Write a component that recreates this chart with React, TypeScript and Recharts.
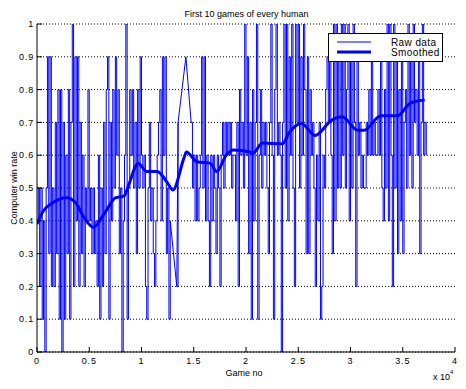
import { LineChart, Line, XAxis, YAxis, CartesianGrid, Legend } from 'recharts';

const FONT = '"Liberation Sans", Arial, Helvetica, sans-serif';
const BLUE = '#0000ff';

const title = 'First 10 games of every human';
const xTicks = [0, 5000, 10000, 15000, 20000, 25000, 30000, 35000, 40000];
const yTicks = [0, 0.1, 0.2, 0.3, 0.4, 0.5, 0.6, 0.7, 0.8, 0.9, 1];

// win rate over each player's first 10 games, one reading every 125 games
// null = no data there (the bridge line below draws the straight jump)
const rawStep = 125;
const rawRate = [
  0.4, 0.5, 0.2, 0.5, 0.1, 0.4, 0, 0.5, 0.9, 0.3,
  0.9, 0.2, 0.5, 0.2, 0.7, 0.3, 0.8, 0.1, 0.8, 0,
  0.7, 0.1, 0.6, 0.3, 0.8, 0.1, 0.7, 1, 0.2, 0.9,
  0.4, 0.9, 0.2, 0.7, 0.3, 0.6, 0.2, 0.5,
  0.4, 0.8, 0.4, 0.5, 0.3, 0.5, 0.3, 0.4, 0.2, 0.6,
  0.1, 0.5, 0.2, 0.7, 0.3, 0.8, 0.9, 0.1, 0.7, 0.4,
  0.8, 0.5, 0.9, 0.6, 0.8, 0.3, 0.5, 0, 0.4, 0.6,
  1, 0.1, 0.5, 0.8, 0.6, 0.8, 0.5, 0.7,
  0.3, 0.8, 0.5, 0.9, 0.6, 0.5, 0.6, 0.2, 0.1, 0.5,
  0.7, 0.4, 0.5, 0.3, 0.2, 0.4, 0.6, 0.7, 0.8, 0.4,
  0.9, 0.6, 0.9, 0.3, 0.5, 0.1, 0.4, null, null, null,
  null, 0.2, 0.7, null, null, null, null, null,
  0.9, null, null, null, 0.7, 0.5, 0.6, 0.4, 0.6, 0.4,
  0.5, 0.6, 0.9, 0.5, 0.9, 0.4, 0.6, 0.4, 0.2, 0.6,
  0.4, 0.6, 0.5, 0.3, 0.6, 0.5, 0.2, 0.6, 0.7, 0.5,
  0.7, 0.6, 0.7, 0.6, 0.7, 0.5, 0.6, 0.6,
  0.4, 0.7, 0.2, 0.8, 0.6, 0.7, 0.5, 1, 0.6, 0.9,
  0.3, 0.7, 0.1, 0.8, 0.4, 0.7, 1, 0.1, 0.6, 0.8,
  0.5, 0.7, 0.6, 0.7, 0.5, 0.3, 0.7, 1, 0.6, 0.1,
  0.8, 1, 0.6, 0.7, 0.6, 0, 0.7,
  1, 0.5, 1, 0.4, 0.9, 0.6, 1, 0.5, 0.2, 1,
  0.7, 1, 0.5, 0.9, 0.6, 1, 0.8, 0.3, 0.9, 0.3,
  0.8, 0.6, 0.7, 0.5, 0.2, 0.6, 0.4, 0.7, 0.1, 0.2,
  0.6, 0.5, 0.8, 0.9, 0.7, 0.9, 0.6, 0.3,
  1, 0.4, 1, 0.5, 0.9, 0.5, 1, 0.6, 1, 0.5,
  0.8, 1, 0.4, 0.9, 0.5, 1, 0.7, 0.2, 0.9, 0.6,
  0.7, 0.5, 0.6, 0.5, 0.5, 0.7, 0.6, 0.8, 0.6, 0.9,
  0.6, 0.7, 0.6, 0.6, 0.8, 0.6, 0.9, 0.5,
  0.4, 0.8, 0.5, 1, 0.4, 1, 0.6, 0.2, 1, 0.5,
  0.9, 0.3, 0.8, 0.4, 0.9, 0.3, 0.7, 0.8, 0.5, 1,
  0.6, 0.9, 0.5, 1, 0.7, 0.8, 0.6, 0.9, 0.3, 0.7,
  1, 0.6, 0.7, 0.6,
];

// straight segments across the gap around game 13000
const bridgeGame = [12750, 13375, 13500, 14250, 14750];
const bridgeRate = [0.4, 0.2, 0.7, 0.9, 0.7];

const smoothGame = [
  0, 600, 1500, 2800, 3700, 4500, 5400, 6500, 7500, 8300,
  8900, 9400, 9700, 10500, 11500, 12500, 13000, 14100, 14300, 15300,
  16600, 17200, 18100, 18800, 20400, 20600, 21600, 23500, 24100, 25300,
  26600, 28200, 29200, 30700, 31300, 32900, 34500, 35700, 37100,
];
const smoothRate = [
  0.39, 0.43, 0.455, 0.47, 0.455, 0.41, 0.38, 0.425, 0.47, 0.475,
  0.52, 0.565, 0.575, 0.55, 0.55, 0.515, 0.494, 0.595, 0.61, 0.58,
  0.575, 0.55, 0.6, 0.616, 0.61, 0.605, 0.637, 0.635, 0.667, 0.697,
  0.66, 0.707, 0.717, 0.676, 0.676, 0.72, 0.72, 0.758, 0.768,
];

const rawData = rawRate.map((rate, i) => ({ game: i * rawStep, rate }));
const bridgeData = bridgeGame.map((game, i) => ({ game, rate: bridgeRate[i] }));
const smoothData = smoothGame.map((game, i) => ({ game, rate: smoothRate[i] }));

const tickStyle = { fontSize: 9, fill: '#000', fontFamily: FONT, letterSpacing: 0.8 };

function XLabel({ viewBox }: any) {
  const { x, y, width } = viewBox;
  return (
    <g fontFamily={FONT} fill="#000">
      <text x={x + width / 2 - 2} y={y + 23.5} textAnchor="middle" fontSize={9}>Game no</text>
      <text x={x + width - 22} y={y + 28} fontSize={9}>
        x 10<tspan dy={-6} fontSize={6}>4</tspan>
      </text>
    </g>
  );
}

function YLabel({ viewBox }: any) {
  const cx = 16.5;
  const cy = viewBox.y + viewBox.height / 2;
  return (
    <text x={cx} y={cy} transform={`rotate(-90 ${cx} ${cy})`} textAnchor="middle" fontSize={9} fontFamily={FONT} fill="#000">
      Computer win rate
    </text>
  );
}

function LegendBox({ payload }: any) {
  const items = (payload || []).filter((e: any) => e.type !== 'none');
  return (
    <div style={{ width: 113, height: 27, border: '1px solid #000', background: '#fff' }}>
      <svg width={113} height={27} style={{ display: 'block' }}>
        {items.map((entry: any, i: number) => (
          <g key={entry.value}>
            <line x1={8} x2={42} y1={8 + i * 10} y2={8 + i * 10} stroke={entry.color} strokeWidth={entry.payload?.strokeWidth ?? 1} />
            <text x={62} y={11.7 + i * 10} fontSize={10} fontFamily={FONT} fill="#000" letterSpacing={0.4}>
              {entry.value}
            </text>
          </g>
        ))}
      </svg>
    </div>
  );
}

export default function App() {
  return (
    <div style={{ position: 'absolute', left: 0, top: 0, width: 466, height: 389, background: '#fff' }}>
      <svg width={466} height={24} style={{ position: 'absolute', left: 0, top: 0 }}>
        <text x={246.5} y={17.3} textAnchor="middle" fontSize={9} fontFamily={FONT} fill="#000">
          {title}
        </text>
      </svg>
      <LineChart width={466} height={389} margin={{ top: 24, right: 11, bottom: 0, left: 0 }}>
        <CartesianGrid vertical={false} stroke="#000" strokeDasharray="1 2" />
        <XAxis
          dataKey="game"
          type="number"
          domain={[0, 40000]}
          allowDataOverflow
          ticks={xTicks}
          tickFormatter={(v) => String(v / 10000)}
          tick={tickStyle}
          tickSize={-5}
          tickMargin={11}
          height={37}
          stroke="#000"
          label={(props: any) => <XLabel {...props} />}
        />
        <XAxis
          xAxisId="top"
          orientation="top"
          dataKey="game"
          type="number"
          domain={[0, 40000]}
          allowDataOverflow
          ticks={xTicks}
          tick={false}
          tickSize={-5}
          height={0}
          stroke="#000"
        />
        <YAxis
          type="number"
          domain={[0, 1]}
          allowDataOverflow
          ticks={yTicks}
          tickFormatter={(v) => String(v)}
          tick={tickStyle}
          tickSize={-5}
          tickMargin={8}
          width={37}
          stroke="#000"
          label={(props: any) => <YLabel {...props} />}
        />
        <YAxis
          yAxisId="right"
          orientation="right"
          type="number"
          domain={[0, 1]}
          allowDataOverflow
          ticks={yTicks}
          tick={false}
          tickSize={-5}
          width={0}
          stroke="#000"
        />
        <Legend
          layout="vertical"
          align="center"
          verticalAlign="middle"
          wrapperStyle={{ left: 328, top: 33, width: 115, height: 29 }}
          content={(props: any) => <LegendBox {...props} />}
        />
        <Line
          data={rawData}
          dataKey="rate"
          name="Raw data"
          type="stepAfter"
          stroke={BLUE}
          strokeWidth={1}
          dot={false}
          activeDot={false}
          isAnimationActive={false}
        />
        <Line
          data={bridgeData}
          dataKey="rate"
          name="gap"
          legendType="none"
          type="linear"
          stroke={BLUE}
          strokeWidth={1}
          dot={false}
          activeDot={false}
          isAnimationActive={false}
        />
        <Line
          data={smoothData}
          dataKey="rate"
          name="Smoothed"
          type="monotone"
          stroke={BLUE}
          strokeWidth={3}
          dot={false}
          activeDot={false}
          isAnimationActive={false}
        />
      </LineChart>
    </div>
  );
}
